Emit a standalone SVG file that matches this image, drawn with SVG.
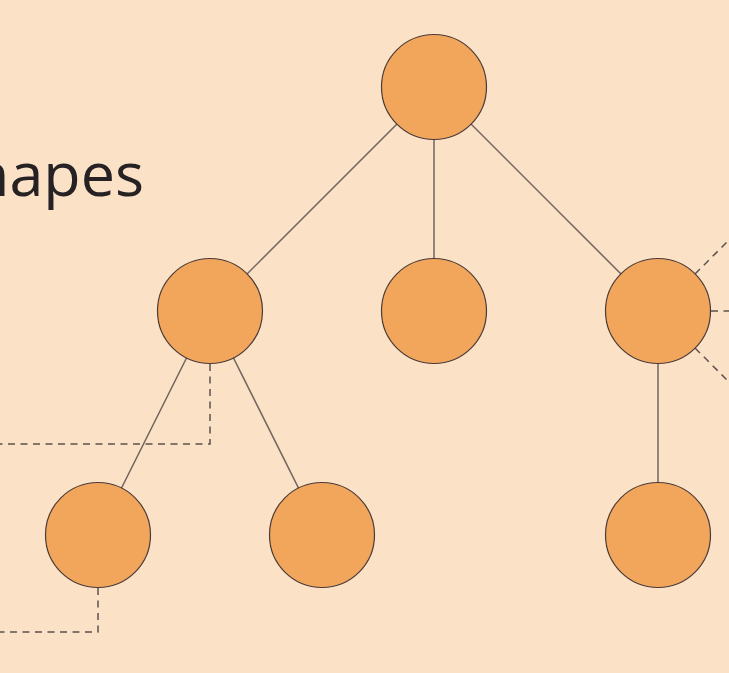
<svg xmlns="http://www.w3.org/2000/svg" width="729" height="673" viewBox="0 0 729 673">
<style>
.bg{fill:#fbe1c6}
.node{fill:#f2a65c;stroke:#4a3b38;stroke-width:1.2}
.edge{stroke:#736560;stroke-width:1.5;fill:none}
.dash{stroke:#5e524e;stroke-width:1.5;fill:none;stroke-dasharray:7 5.5}
.title{font-family:"Open Sans","Liberation Sans",sans-serif;font-size:61px;fill:#262122}
</style>
<rect class="bg" x="0" y="0" width="729" height="673"/>
<text class="title" x="144" y="196" text-anchor="end">Shapes</text>
<g id="connectors">
<line class="edge" x1="434" y1="87" x2="210" y2="311"/>
<line class="edge" x1="434" y1="87" x2="434" y2="311"/>
<line class="edge" x1="434" y1="87" x2="658" y2="311"/>
<line class="edge" x1="210" y1="311" x2="98" y2="535"/>
<line class="edge" x1="210" y1="311" x2="322" y2="535"/>
<line class="edge" x1="658" y1="311" x2="658" y2="535"/>
<polyline class="dash" points="210,364 210,444 0,444"/>
<polyline class="dash" points="98,588 98,632 0,632"/>
<line class="dash" x1="695" y1="274" x2="740" y2="229"/>
<line class="dash" x1="711" y1="311" x2="740" y2="311"/>
<line class="dash" x1="695" y1="348" x2="740" y2="393"/>
</g>
<g id="n0"><circle class="node" cx="434" cy="87" r="52.5"/></g>
<g id="n1"><circle class="node" cx="210" cy="311" r="52.5"/></g>
<g id="n2"><circle class="node" cx="434" cy="311" r="52.5"/></g>
<g id="n3"><circle class="node" cx="658" cy="311" r="52.5"/></g>
<g id="n4"><circle class="node" cx="98" cy="535" r="52.5"/></g>
<g id="n5"><circle class="node" cx="322" cy="535" r="52.5"/></g>
<g id="n6"><circle class="node" cx="658" cy="535" r="52.5"/></g>
</svg>
